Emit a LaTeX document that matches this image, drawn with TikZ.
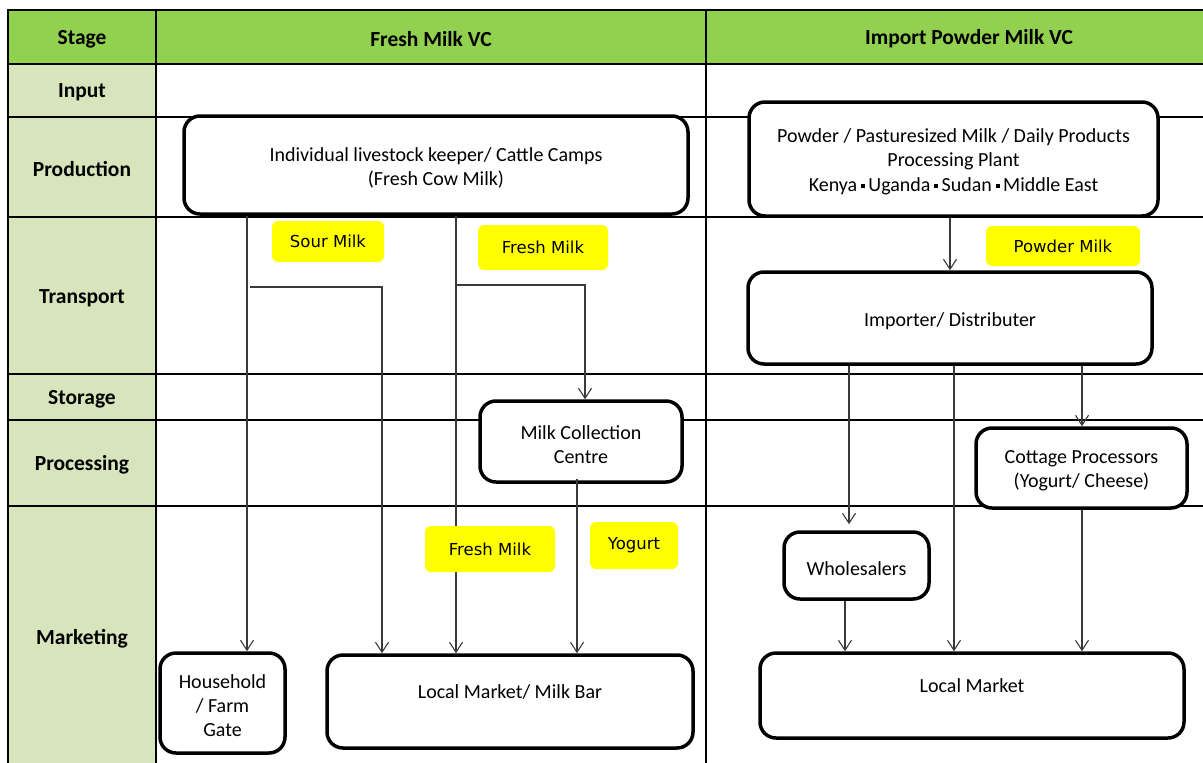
\documentclass[tikz,border=0pt]{standalone}
\usepackage{fontspec}
\setmainfont{Carlito}
\newfontfamily\lblfont{DejaVu Sans}
\usetikzlibrary{arrows.meta}

\definecolor{hdrgreen}{HTML}{92D050}
\definecolor{stagecol}{HTML}{D8E4BC}
\definecolor{tagyellow}{HTML}{FFFF00}
\definecolor{linegrey}{HTML}{3A3A3A}

% small square separator between country names
\newcommand\sqsep{\hspace{0.18em}\rule[0.2em]{0.2em}{0.2em}\hspace{0.18em}}

\begin{document}
\begin{tikzpicture}[x=1pt,y=-1pt,
  grid/.style={line width=2pt, black, line cap=rect},
  hdr/.style={font=\fontsize{21.5}{26}\selectfont\bfseries},
  box/.style={draw, line width=3.5pt, rounded corners=16pt, fill=white, inner sep=0pt},
  boxtxt/.style={align=center, font=\fontsize{20}{24}\selectfont, inner sep=0pt},
  tag/.style={fill=tagyellow, rounded corners=6pt,
    font=\lblfont\fontsize{16.5}{20}\selectfont, inner sep=0pt},
  conn/.style={line width=1.1pt, linegrey,
    -{Straight Barb[length=10pt,width=13pt,line width=1.1pt]}},
]
\useasboundingbox (0,0) rectangle (1203,763);

% ---- table background ----
\fill[hdrgreen] (8,10) rectangle (1215,64);
\fill[stagecol] (8,64) rectangle (156,775);
\foreach \yy in {10,64,117,217,374,420,506}
  \draw[grid] (8,\yy) -- (1215,\yy);
\foreach \xx in {8,156,706}
  \draw[grid] (\xx,10) -- (\xx,775);

% ---- header and stage labels ----
\node[hdr] (hStage)  at (82,39)  {Stage};
\node[hdr] (hFresh)  at (431,39) {Fresh Milk VC};
\node[hdr] (hImport) at (969,39) {Import Powder Milk VC};
\node[hdr] (sInput)   at (82,92)  {Input};
\node[hdr] (sProd)    at (82,169) {Production};
\node[hdr] (sTrans)   at (82,298) {Transport};
\node[hdr] (sStore)   at (82,399) {Storage};
\node[hdr] (sProc)    at (82,465) {Processing};
\node[hdr] (sMarket)  at (82,639) {Marketing};

% ---- fresh milk chain ----
\node[box, minimum width=504pt, minimum height=98pt]  (prodL) at (436,165) {};
\node[box, minimum width=202pt, minimum height=81pt]  (mcc)   at (581,441.5) {};
\node[box, minimum width=125pt, minimum height=100pt] (hh)    at (222.5,703) {};
\node[box, minimum width=366pt, minimum height=93pt]  (lmb)   at (510,701.5) {};

\node[boxtxt] (prodLT) at ([yshift=-3pt]prodL.center)
  {Individual livestock keeper/ Cattle Camps\\(Fresh Cow Milk)};
\node[boxtxt] (mccT) at ([yshift=-3pt]mcc.center) {Milk Collection\\Centre};
\node[boxtxt] (hhT)  at ([yshift=-3pt]hh.center)  {Household\\/ Farm\\Gate};
\node[boxtxt] (lmbT) at (510,692) {Local Market/ Milk Bar};

% ---- imported powder milk chain ----
\node[box, minimum width=409pt, minimum height=114pt] (prodR) at (953.5,159) {};
\node[box, minimum width=404pt, minimum height=92pt]  (imp)   at (950,318) {};
\node[box, minimum width=211pt, minimum height=80pt]  (cot)   at (1081.5,468) {};
\node[box, minimum width=145pt, minimum height=67pt]  (whs)   at (856.5,565.5) {};
\node[box, minimum width=424pt, minimum height=85pt]  (lm)    at (972,695.5) {};

\node[boxtxt] (prodRT) at ([yshift=-3pt]prodR.center)
  {Powder / Pasturesized Milk / Daily Products\\Processing Plant\\[1pt]
   Kenya\sqsep Uganda\sqsep Sudan\sqsep Middle East};
\node[boxtxt] (impT) at ([yshift=-3pt]imp.center) {Importer/ Distributer};
\node[boxtxt] (cotT) at ([yshift=-3pt]cot.center) {Cottage Processors\\(Yogurt/ Cheese)};
\node[boxtxt] (whsT) at ([yshift=-3pt]whs.center) {Wholesalers};
\node[boxtxt] (lmT)  at (972,686) {Local Market};

% ---- connector columns ----
\coordinate (xSour)    at (247,0);
\coordinate (jSour)    at (250,287);
\coordinate (xSourB)   at (382,0);
\coordinate (xFresh)   at (456,0);
\coordinate (jFresh)   at (456,285);
\coordinate (xMcc)     at (585,0);
\coordinate (xMccOut)  at (577,0);
\coordinate (xImp)     at (950,0);
\coordinate (xWhs)     at (849,0);
\coordinate (xImpLm)   at (954,0);
\coordinate (xCot)     at (1082,0);
\coordinate (xWhsLm)   at (845,0);

% ---- fresh milk flows ----
\draw[conn] (prodL.south -| xSour) -- (hh.north -| xSour);
\draw[conn] (jSour) -| (lmb.north -| xSourB);
\draw[conn] (prodL.south -| xFresh) -- (lmb.north -| xFresh);
\draw[conn] (jFresh) -| (mcc.north -| xMcc);
\draw[conn] ([yshift=5pt]mcc.south -| xMccOut) -- (lmb.north -| xMccOut);

% ---- powder milk flows ----
\draw[conn] (prodR.south -| xImp) -- (imp.north -| xImp);
\draw[conn, shorten >=6pt] (imp.south -| xWhs) -- (whs.north -| xWhs);
\draw[conn] (imp.south -| xImpLm) -- (lm.north -| xImpLm);
\draw[conn] (imp.south -| xCot) -- (cot.north -| xCot);
\draw[conn] (cot.south -| xCot) -- (lm.north -| xCot);
\draw[conn] (whs.south -| xWhsLm) -- (lm.north -| xWhsLm);

% ---- product tags (drawn over the flow lines) ----
\node[tag, minimum width=112pt, minimum height=41pt] (tSour)   at (328,241.5) {Sour Milk};
\node[tag, minimum width=130pt, minimum height=45pt] (tFresh1) at (543,247.5) {Fresh Milk};
\node[tag, minimum width=154pt, minimum height=40pt] (tPowder) at (1063,246)  {Powder Milk};
\node[tag, minimum width=130pt, minimum height=46pt] (tFresh2) at (490,549)   {Fresh Milk};
\node[tag, minimum width=88pt,  minimum height=47pt] (tYog)    at (634,545.5) {Yogurt};
\end{tikzpicture}
\end{document}
